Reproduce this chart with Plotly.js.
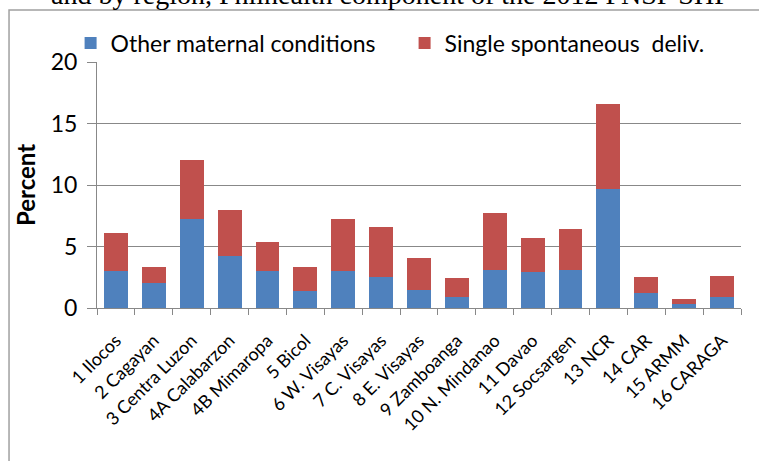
<!DOCTYPE html>
<html>
<head>
<meta charset="utf-8">
<script src="https://cdn.plot.ly/plotly-3.0.1.min.js"></script>
<style>html,body{margin:0;padding:0;background:#fff;}#chart{width:759px;height:461px;}</style>
</head>
<body>
<div id="chart"></div>
<script>
const regions = ["1 Ilocos","2 Cagayan","3 Centra Luzon","4A Calabarzon","4B Mimaropa","5 Bicol","6 W. Visayas","7 C. Visayas","8 E. Visayas","9 Zamboanga","10 N. Mindanao","11 Davao","12 Socsargen","13 NCR","14 CAR","15 ARMM","16 CARAGA"];
const otherMaternal = [3.0,2.0,7.2,4.2,3.0,1.4,3.0,2.5,1.5,0.9,3.1,2.9,3.1,9.7,1.2,0.3,0.9];
const singleSpontaneous = [3.1,1.3,4.8,3.8,2.4,1.9,4.2,4.1,2.6,1.5,4.6,2.8,3.3,6.9,1.3,0.4,1.7];
const yTicks = [0,5,10,15,20];

const font = "Lato, 'Open Sans', sans-serif";
const data = [
  {type:"bar", name:"Other maternal conditions", x:regions, y:otherMaternal, marker:{color:"#4F81BD"}},
  {type:"bar", name:"Single spontaneous  deliv.", x:regions, y:singleSpontaneous, marker:{color:"#C0504D"}}
];
const layout = {
  width:759, height:461,
  margin:{l:97, r:18, t:62, b:153},
  barmode:"stack", bargap:0.37,
  paper_bgcolor:"#fff", plot_bgcolor:"#fff",
  font:{family:font, color:"#000"},
  showlegend:true,
  legend:{orientation:"h", x:-0.041, xanchor:"left", y:1.077, yanchor:"middle",
          font:{size:23, family:font}, entrywidth:289, entrywidthmode:"pixels",
          traceorder:"normal", itemclick:false, bgcolor:"rgba(0,0,0,0)"},
  xaxis:{type:"category", tickangle:-45, tickfont:{size:18, family:font}, automargin:false,
         showline:true, linecolor:"#888", linewidth:1, ticks:"outside", tickson:"boundaries",
         ticklen:6, tickcolor:"#888", showgrid:false, fixedrange:true, ticklabelstandoff:14},
  yaxis:{range:[0,20], tickvals:yTicks, ticktext:yTicks.map(String), tickfont:{size:23, family:font},
         showline:true, linecolor:"#888", linewidth:1, ticks:"outside", ticklen:9, tickcolor:"#888",
         showgrid:true, gridcolor:"#888", gridwidth:1, zeroline:false, automargin:false,
         ticklabelstandoff:5,
         title:{text:"<b>Percent</b>", font:{size:24, family:font}, standoff:8}, fixedrange:true},
  annotations:[{xref:"paper", yref:"paper", x:0.455, y:1.203, xanchor:"center", yanchor:"bottom",
    text:"and by region, Philhealth component of the 2012 FNSP SHP", showarrow:false,
    font:{family:"'Liberation Serif', 'Times New Roman', serif", size:28, color:"#000"}}],
  shapes:[{type:"rect", xref:"paper", yref:"paper", x0:-0.1366, x1:1.06, y0:-0.7, y1:1.211,
    line:{color:"#a0a0a0", width:1.5}, fillcolor:"rgba(0,0,0,0)", layer:"below"}]
};
Plotly.newPlot("chart", data, layout, {displayModeBar:false, staticPlot:true});
</script>
</body>
</html>
